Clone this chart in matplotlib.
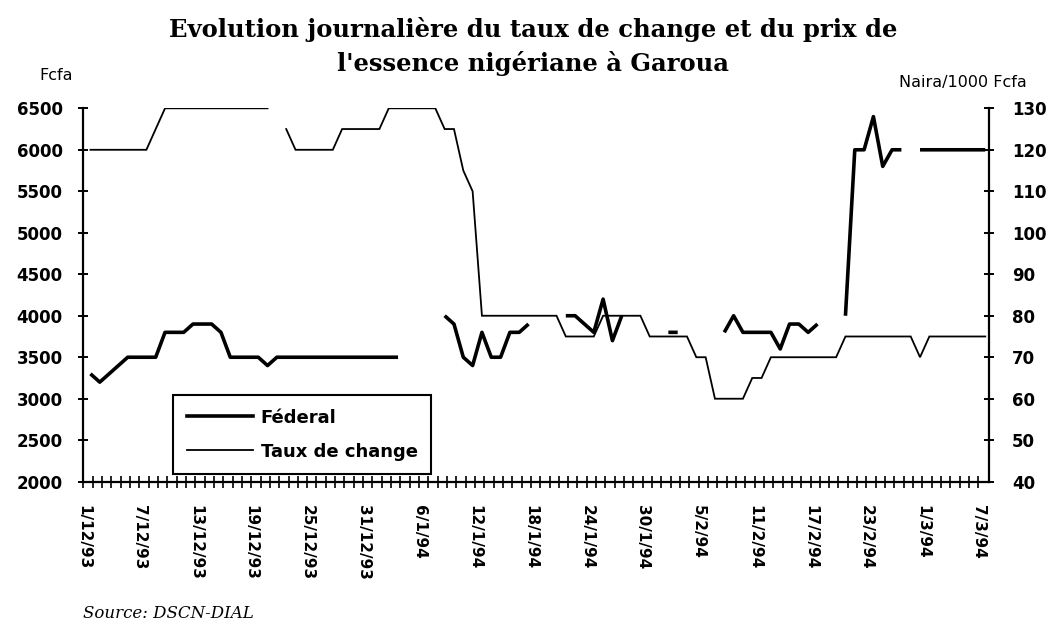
import numpy as np
import matplotlib
matplotlib.use("Agg")
import matplotlib.pyplot as plt
from matplotlib.lines import Line2D
from matplotlib.ticker import FixedLocator

# Daily values, 1/12/93 (day 0) to 7/3/94 (day 96); None = no observation
federal = [3300, 3200, 3300, 3400, 3500, 3500, 3500, 3500, 3800, 3800,
           3800, 3900, 3900, 3900, 3800, 3500, 3500, 3500, 3500, 3400,
           3500, 3500, 3500, 3500, 3500, 3500, 3500, 3500, 3500, 3500,
           3500, 3500, 3500, 3500, None, None, None, None, 4000, 3900,
           3500, 3400, 3800, 3500, 3500, 3800, 3800, 3900, None, None,
           None, 4000, 4000, 3900, 3800, 4200, 3700, 4000, None, None,
           None, None, 3800, 3800, None, None, None, None, 3800, 4000,
           3800, 3800, 3800, 3800, 3600, 3900, 3900, 3800, 3900, None,
           None, 4000, 6000, 6000, 6400, 5800, 6000, 6000, None, 6000,
           6000, 6000, 6000, 6000, 6000, 6000, 6000]

taux_change = [120, 120, 120, 120, 120, 120, 120, 125, 130, 130,
               130, 130, 130, 130, 130, 130, 130, 130, 130, 130,
               None, 125, 120, 120, 120, 120, 120, 125, 125, 125,
               125, 125, 130, 130, 130, 130, 130, 130, 125, 125,
               115, 110, 80, 80, 80, 80, 80, 80, 80, 80,
               80, 75, 75, 75, 75, 80, 80, 80, 80, 80,
               75, 75, 75, 75, 75, 70, 70, 60, 60, 60,
               60, 65, 65, 70, 70, 70, 70, 70, 70, 70,
               70, 75, 75, 75, 75, 75, 75, 75, 75, 70,
               75, 75, 75, 75, 75, 75, 75]

date_labels = ["1/12/93", "7/12/93", "13/12/93", "19/12/93", "25/12/93",
               "31/12/93", "6/1/94", "12/1/94", "18/1/94", "24/1/94",
               "30/1/94", "5/2/94", "11/2/94", "17/2/94", "23/2/94",
               "1/3/94", "7/3/94"]
label_days = [0, 6, 12, 18, 24, 30, 36, 42, 48, 54, 60, 66, 72, 78, 84, 90, 96]

days = np.arange(len(federal))
fed = np.array(federal, dtype=float)
tx = np.array(taux_change, dtype=float)

fig = plt.figure(figsize=(10.51, 6.25), dpi=100)
ax = fig.add_axes([83 / 1051, 1 - 481.7 / 625, 906 / 1051, 373.4 / 625])
ax2 = ax.twinx()

ax2.plot(days, tx, color="black", lw=1.3, solid_joinstyle="miter")
ax.plot(days, fed, color="black", lw=2.6, solid_capstyle="butt")
ax.set_zorder(ax2.get_zorder() + 1)
ax.patch.set_visible(False)

ax.set_xlim(-0.8, 96.4)
ax.set_ylim(2000, 6500)
ax2.set_ylim(40, 130)
ax.set_yticks(np.arange(2000, 6501, 500))
ax2.set_yticks(np.arange(40, 131, 10))

# tick marks sit a little before each day in the original
off = 0.75
ax.xaxis.set_major_locator(FixedLocator([d - off for d in label_days]))
ax.xaxis.set_minor_locator(FixedLocator([d - off for d in days]))
ax.set_xticklabels(date_labels, rotation=270, fontsize=11, fontweight="bold",
                   ha="center", va="top")

for s in ["top", "right"]:
    ax.spines[s].set_visible(False)
for s in ["top", "left", "bottom"]:
    ax2.spines[s].set_visible(False)
for sp in [ax.spines["left"], ax.spines["bottom"], ax2.spines["right"]]:
    sp.set_linewidth(1.6)

ax.tick_params(axis="y", direction="inout", length=7, width=1.4, pad=11,
               labelsize=12)
ax2.tick_params(axis="y", direction="inout", length=7, width=1.4, pad=13,
                labelsize=12)
ax.tick_params(axis="x", which="both", direction="inout", length=8, width=1.2,
               pad=13)
for lab in ax.get_yticklabels() + ax2.get_yticklabels():
    lab.set_fontweight("bold")

fig.text(0.507, 0.952, "Evolution journalière du taux de change et du prix de",
         ha="center", va="center", fontsize=17.5, family="DejaVu Serif",
         fontweight="bold")
fig.text(0.507, 0.899, "l'essence nigériane à Garoua",
         ha="center", va="center", fontsize=17.5, family="DejaVu Serif",
         fontweight="bold")
fig.text(56 / 1051, 1 - 75 / 625, "Fcfa", ha="center", va="center", fontsize=11.5)
fig.text(963 / 1051, 1 - 82 / 625, "Naira/1000 Fcfa", ha="center", va="center",
         fontsize=11.5)
fig.text(83 / 1051, 1 - 613 / 625, "Source: DSCN-DIAL", ha="left", va="center",
         fontsize=12, family="DejaVu Serif", style="italic")

handles = [Line2D([], [], color="black", lw=2.6),
           Line2D([], [], color="black", lw=1.3)]
leg = ax.legend(handles, ["Féderal", "Taux de change"], loc="upper left",
                bbox_to_anchor=(173 / 1051, 1 - 395 / 625),
                bbox_transform=fig.transFigure, borderaxespad=0,
                prop={"size": 13, "weight": "bold"}, handlelength=3.7,
                handletextpad=0.4, borderpad=0.75, labelspacing=0.9,
                fancybox=False, framealpha=1, edgecolor="black")
leg.get_frame().set_linewidth(1.5)

fig.savefig("out.png", dpi=100)
